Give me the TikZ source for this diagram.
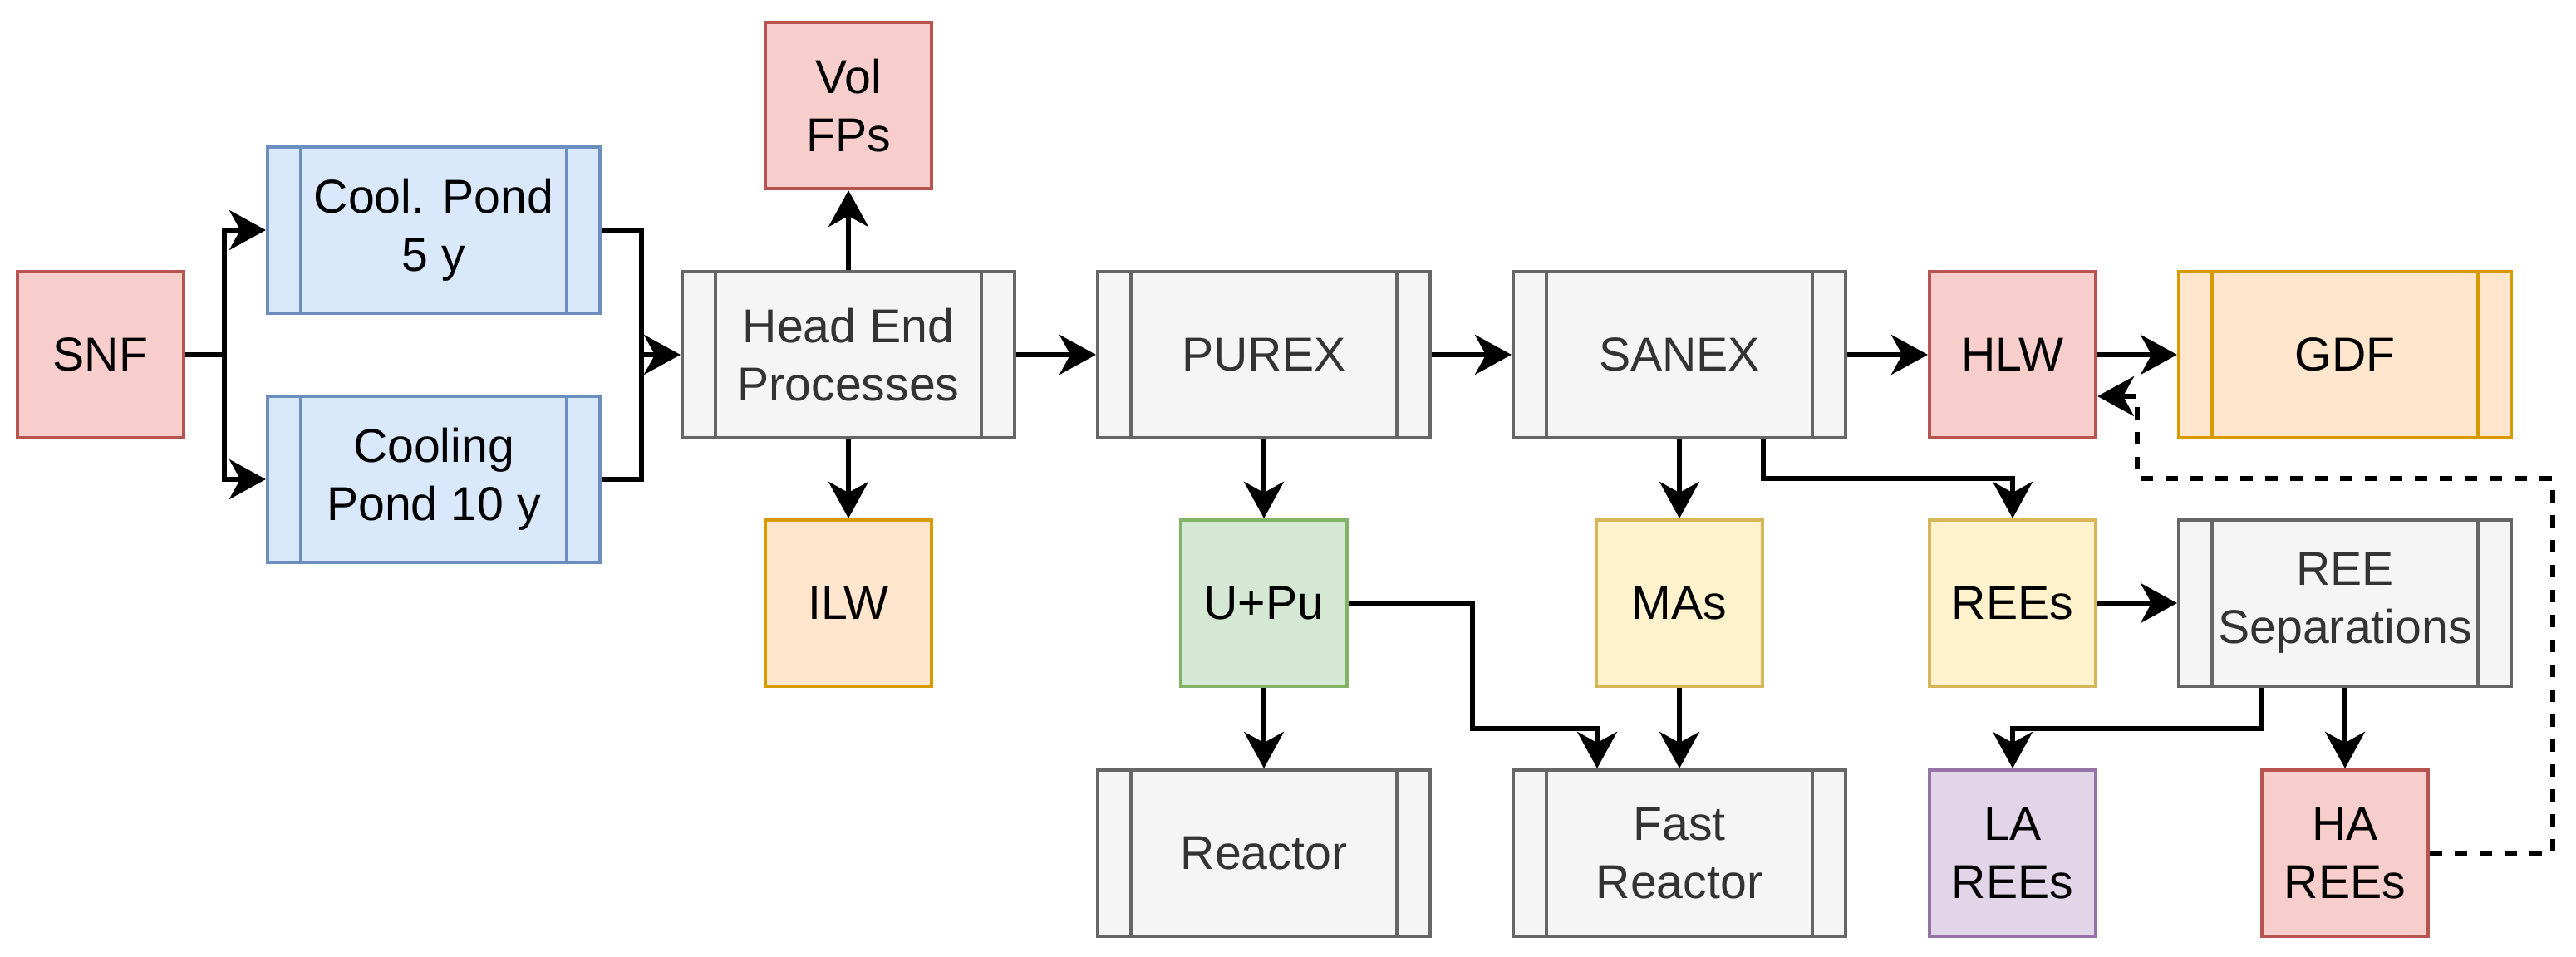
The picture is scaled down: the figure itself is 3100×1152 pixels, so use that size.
\documentclass[tikz,border=0pt]{standalone}
\usepackage{fontspec}
\setmainfont{Liberation Sans}
\usetikzlibrary{arrows.meta,calc}
\definecolor{redF}{HTML}{F8CECC}\definecolor{redD}{HTML}{B85450}
\definecolor{bluF}{HTML}{DAE8FC}\definecolor{bluD}{HTML}{6C8EBF}
\definecolor{gryF}{HTML}{F5F5F5}\definecolor{gryD}{HTML}{666666}
\definecolor{orgF}{HTML}{FFE6CC}\definecolor{orgD}{HTML}{D79B00}
\definecolor{grnF}{HTML}{D5E8D4}\definecolor{grnD}{HTML}{82B366}
\definecolor{yelF}{HTML}{FFF2CC}\definecolor{yelD}{HTML}{D6B656}
\definecolor{purF}{HTML}{E1D5E7}\definecolor{purD}{HTML}{9673A6}
\definecolor{txtG}{HTML}{333333}
\tikzset{
  base/.style={font=\fontsize{14.3pt}{17.5pt}\selectfont, align=center, line width=1.05pt, inner sep=0pt},
  sq/.style 2 args={base, draw=#1, fill=#2, minimum width=50pt, minimum height=50pt},
  proc/.style 2 args={base, draw=#1, fill=#2, minimum width=100pt, minimum height=50pt,
    path picture={\draw[#1, line width=1.05pt]
      ([xshift=10pt]path picture bounding box.north west) -- ([xshift=10pt]path picture bounding box.south west)
      ([xshift=-10pt]path picture bounding box.north east) -- ([xshift=-10pt]path picture bounding box.south east);}},
  gproc/.style={proc={gryD}{gryF}, text=txtG},
  arr/.style={line width=1.3pt, -{Stealth[length=11pt,width=12pt,inset=3.3pt]}},
}
\begin{document}
\begin{tikzpicture}[x=0.25pt,y=-0.25pt]
\useasboundingbox (0,0) rectangle (3100,1152);
% nodes
\node[sq={redD}{redF}] (snf) at (121,427) {SNF};
\node[proc={bluD}{bluF}] (cp5) at (522,277) {Cool. Pond\\5 y};
\node[proc={bluD}{bluF}] (cp10) at (522,577) {Cooling\\Pond 10 y};
\node[gproc] (he) at (1021,427) {Head End\\Processes};
\node[sq={redD}{redF}] (vol) at (1021,127) {Vol\\FPs};
\node[sq={orgD}{orgF}] (ilw) at (1021,726) {ILW};
\node[gproc] (purex) at (1521,427) {PUREX};
\node[gproc] (sanex) at (2021,427) {SANEX};
\node[sq={redD}{redF}] (hlw) at (2422,427) {HLW};
\node[proc={orgD}{orgF}] (gdf) at (2822,427) {GDF};
\node[sq={grnD}{grnF}] (upu) at (1521,726) {U+Pu};
\node[sq={yelD}{yelF}] (mas) at (2021,726) {MAs};
\node[sq={yelD}{yelF}] (rees) at (2422,726) {REEs};
\node[gproc] (rsep) at (2822,726) {REE\\Separations};
\node[gproc] (reactor) at (1521,1027) {Reactor};
\node[gproc] (fast) at (2021,1027) {Fast\\Reactor};
\node[sq={purD}{purF}] (la) at (2422,1027) {LA\\REEs};
\node[sq={redD}{redF}] (ha) at (2822,1027) {HA\\REEs};
% junctions
\coordinate (j1) at (270,427);
\coordinate (j2) at (772,427);
\coordinate (k1) at (1772,877);
\coordinate (k1b) at (1922,877);
\coordinate (k2) at (2122,576);
\coordinate (k3) at (2722,877);
\coordinate (k4) at (3072,576);
\coordinate (k5) at (2572,576);
\coordinate (k6) at (2572,477);
% connectors
\draw[arr] (snf.east) -- (j1) |- (cp5.west);
\draw[arr] (j1) |- (cp10.west);
\draw[line width=1.3pt] (cp5.east) -| (j2);
\draw[arr] (cp10.east) -| (j2) -- (he.west);
\draw[arr] (he.north) -- (vol.south);
\draw[arr] (he.south) -- (ilw.north);
\draw[arr] (he.east) -- (purex.west);
\draw[arr] (purex.east) -- (sanex.west);
\draw[arr] (sanex.east) -- (hlw.west);
\draw[arr] (hlw.east) -- (gdf.west);
\draw[arr] (purex.south) -- (upu.north);
\draw[arr] (upu.south) -- (reactor.north);
\draw[arr] (upu.east) -| (k1) -- (k1b) -- (k1b |- fast.north);
\draw[arr] (sanex.south) -- (mas.north);
\draw[arr] (mas.south) -- (fast.north);
\draw[arr] (sanex.south -| k2) -- (k2) -| (rees.north);
\draw[arr] (rees.east) -- (rsep.west);
\draw[arr] (rsep.south -| k3) -- (k3) -| (la.north);
\draw[arr] (rsep.south) -- (ha.north);
\draw[arr, dash pattern=on 3.75pt off 3.75pt] (ha.east) -| (k4) -- (k5) -- (k6) -- (k6 -| hlw.east);
\end{tikzpicture}
\end{document}
